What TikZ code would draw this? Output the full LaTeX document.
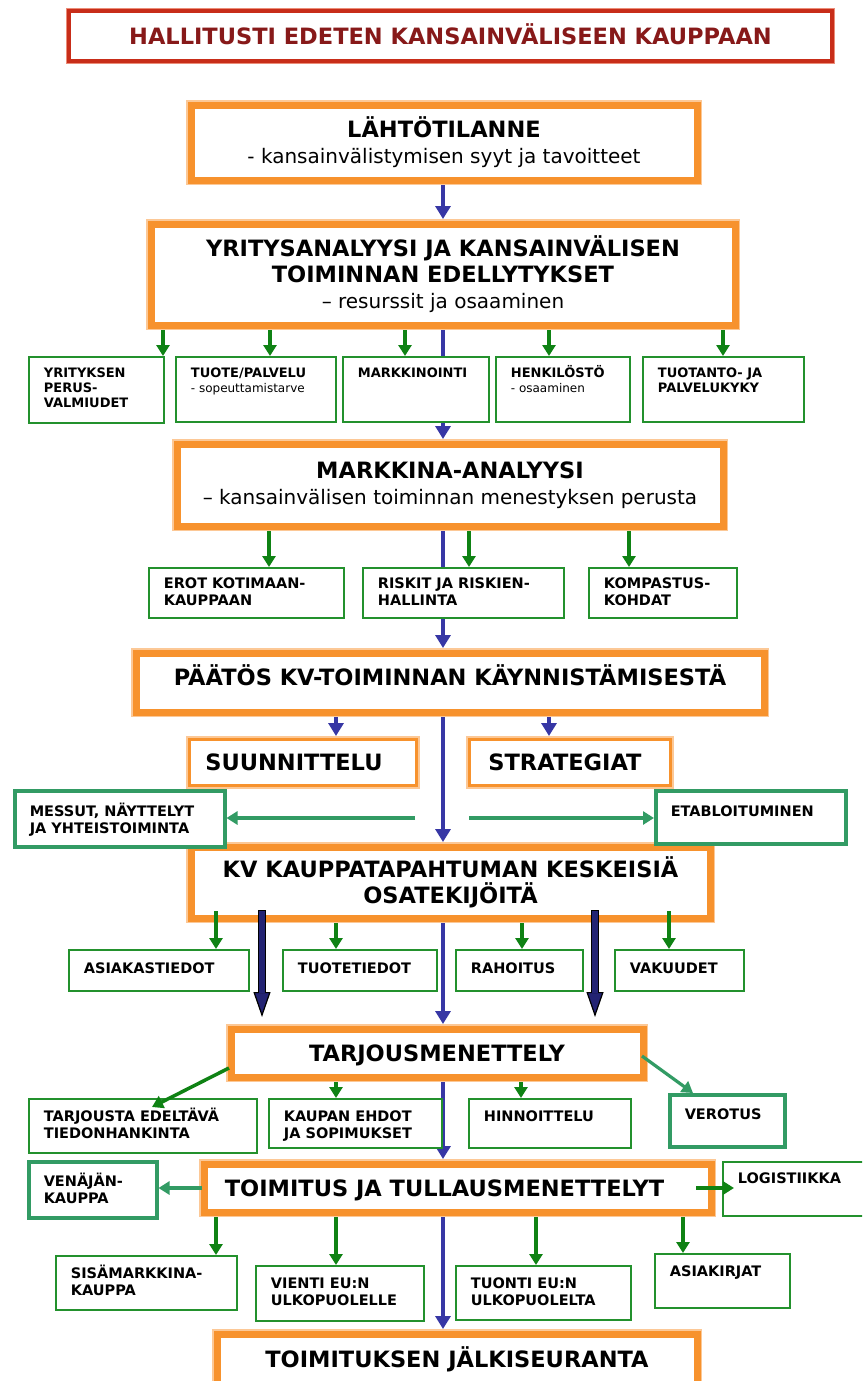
\documentclass[tikz,border=0pt]{standalone}
\usepackage{fontspec}
\setmainfont{DejaVu Sans}
\usetikzlibrary{arrows.meta}
\usetikzlibrary{calc}
\usetikzlibrary{backgrounds}

\definecolor{oranssi}{RGB}{247,146,45}
\definecolor{oranssivaalea}{RGB}{252,200,150}
\definecolor{punainen}{RGB}{200,45,25}
\definecolor{punavaalea}{RGB}{235,140,120}
\definecolor{otsikkoteksti}{RGB}{135,25,25}
\definecolor{vihrea}{RGB}{35,145,45}
\definecolor{nuolivihrea}{RGB}{15,130,20}
\definecolor{turkoosi}{RGB}{50,155,100}
\definecolor{sininen}{RGB}{55,55,165}
\definecolor{tummasininen}{RGB}{35,35,115}

% teksti vihreisiin laatikoihin: [ensimmainen perusviiva]{leveys}{korkeus}{teksti}
\newcommand{\laatikko}[4][22]{\parbox[c][#3pt][t]{#2pt}{\raggedright\leftskip=15pt\relax
  \vspace*{\dimexpr#1pt-.96em\relax}\rule{0pt}{.96em}#4}}
\newcommand{\selite}[1]{{\mdseries\fontsize{12}{15}\selectfont #1}}
\newcommand{\alaotsikko}[1]{{\mdseries\fontsize{20}{26}\selectfont #1}}

\tikzset{
  paalaatikko/.style={draw=oranssi, line width=7pt, preaction={draw=oranssivaalea, line width=10.5pt},
    fill=white, outer sep=5pt, align=center, font=\bfseries\fontsize{22.5}{26}\selectfont},
  ohutlaatikko/.style={draw=oranssi, line width=3pt, preaction={draw=oranssivaalea, line width=7pt},
    fill=white, outer sep=3.5pt, align=center, font=\bfseries\fontsize{22.5}{26}\selectfont},
  yksirivi/.style={text height=16.4pt, text depth=0pt},
  otsikkolaatikko/.style={draw=punainen, line width=4pt, preaction={draw=punavaalea, line width=6.5pt},
    fill=white, text=otsikkoteksti, font=\bfseries\fontsize{22.5}{26}\selectfont, yksirivi},
  pieni/.style={draw=vihrea, line width=1.8pt, fill=white, inner sep=0pt, anchor=north west,
    font=\bfseries\fontsize{14.5}{17}\selectfont},
  pienempi/.style={pieni, font=\bfseries\fontsize{13}{15}\selectfont},
  turkoosilaatikko/.style={pieni, draw=turkoosi, line width=3.5pt},
  kulku/.style={draw=sininen, line width=4.5pt, -{Triangle[width=15pt,length=13pt]}},
  haara/.style={draw=nuolivihrea, line width=3.5pt, -{Triangle[width=13pt,length=11pt]}},
  sivuhaara/.style={draw=turkoosi, line width=3.2pt, -{Triangle[width=13pt,length=11pt]}},
  paksureuna/.style={draw=black, line width=8.5pt,
    -{Triangle[width=17pt,length=25pt,fill=tummasininen,line width=1.2pt]}},
  paksusisus/.style={draw=tummasininen, line width=5.5pt, shorten >=24pt}
}

\begin{document}
\begin{tikzpicture}[x=1pt,y=-1pt]
\useasboundingbox (0,0) rectangle (862,1381);
\clip (0,0) rectangle (862,1381);
\coordinate (akseli) at (443,0);

% otsikko
\node[otsikkolaatikko, minimum width=763pt, minimum height=50pt] (otsikko) at (450.5,36)
  {HALLITUSTI EDETEN KANSAINVÄLISEEN KAUPPAAN};

% pääketju
\node[paalaatikko, minimum width=506pt, minimum height=75pt] (lahto) at (444,142.5)
  {LÄHTÖTILANNE\\\alaotsikko{- kansainvälistymisen syyt ja tavoitteet}};
\node[paalaatikko, minimum width=584pt, minimum height=101pt] (yritys) at (443,274.5)
  {YRITYSANALYYSI JA KANSAINVÄLISEN\\TOIMINNAN EDELLYTYKSET\\\alaotsikko{– resurssit ja osaaminen}};
\node[paalaatikko, minimum width=546pt, minimum height=82pt] (markan) at (450,485)
  {MARKKINA-ANALYYSI\\\alaotsikko{– kansainvälisen toiminnan menestyksen perusta}};
\node[paalaatikko, yksirivi, text depth=11pt, minimum width=628pt, minimum height=59pt] (paatos) at (450,682.5)
  {PÄÄTÖS KV-TOIMINNAN KÄYNNISTÄMISESTÄ};
\node[ohutlaatikko, yksirivi, minimum width=227pt, minimum height=46pt] (suunn) at (303,762.5)
  {SUUNNITTELU\hspace*{18pt}};
\node[ohutlaatikko, yksirivi, minimum width=201pt, minimum height=46pt] (strat) at (570,762.5)
  {STRATEGIAT\hspace*{10pt}};
\node[paalaatikko, minimum width=519pt, minimum height=71pt] (kv) at (450.5,882.5)
  {KV KAUPPATAPAHTUMAN KESKEISIÄ\\OSATEKIJÖITÄ};
\node[paalaatikko, yksirivi, minimum width=412pt, minimum height=48pt] (tarjous) at (437,1053)
  {TARJOUSMENETTELY};
\node[paalaatikko, yksirivi, minimum width=507pt, minimum height=48pt] (toimitus) at (457.5,1188)
  {TOIMITUS JA TULLAUSMENETTELYT\hspace*{26pt}};
\node[paalaatikko, yksirivi, minimum width=480pt, minimum height=51pt] (jalki) at (457,1359.5)
  {TOIMITUKSEN JÄLKISEURANTA};

% edellytykset
\node[pienempi] (yrit) at (28,356) {\laatikko[21]{135}{66}{YRITYKSEN\\PERUS-\\VALMIUDET}};
\node[pienempi] (tuote) at (175,356) {\laatikko[21]{160}{65}{TUOTE/PALVELU\\\selite{- sopeuttamistarve}}};
\node[pienempi] (markk) at (342,356) {\laatikko[21]{146}{65}{MARKKINOINTI}};
\node[pienempi] (henk) at (495,356) {\laatikko[21]{134}{65}{HENKILÖSTÖ\\\selite{- osaaminen}}};
\node[pienempi] (tuotanto) at (642,356) {\laatikko[21]{161}{65}{TUOTANTO- JA\\PALVELUKYKY}};

% markkina-analyysi
\node[pieni] (erot) at (148,567) {\laatikko[21]{195}{50}{EROT KOTIMAAN-\\KAUPPAAN}};
\node[pieni] (riskit) at (362,567) {\laatikko[21]{201}{50}{RISKIT JA RISKIEN-\\HALLINTA}};
\node[pieni] (kompastus) at (588,567) {\laatikko[21]{148}{50}{KOMPASTUS-\\KOHDAT}};

% suunnittelu ja strategiat
\node[turkoosilaatikko] (messut) at (13,789) {\laatikko[26]{210}{56}{MESSUT, NÄYTTELYT\\JA YHTEISTOIMINTA}};
\node[turkoosilaatikko] (etab) at (654,789) {\laatikko[26]{190}{53}{ETABLOITUMINEN}};

% osatekijät
\node[pieni] (asiak) at (68,949) {\laatikko[24]{180}{41}{ASIAKASTIEDOT}};
\node[pieni] (tuotet) at (282,949) {\laatikko[24]{154}{41}{TUOTETIEDOT}};
\node[pieni] (rahoitus) at (455,949) {\laatikko[24]{127}{41}{RAHOITUS}};
\node[pieni] (vakuudet) at (614,949) {\laatikko[24]{129}{41}{VAKUUDET}};

% tarjous
\node[pieni] (tarjousta) at (28,1098) {\laatikko[23]{228}{54}{TARJOUSTA EDELTÄVÄ\\TIEDONHANKINTA}};
\node[pieni] (kaupan) at (268,1098) {\laatikko[23]{173}{49}{KAUPAN EHDOT\\JA SOPIMUKSET}};
\node[pieni] (hinn) at (468,1098) {\laatikko[23]{162}{49}{HINNOITTELU}};
\node[turkoosilaatikko] (verotus) at (668,1093) {\laatikko[25]{115}{52}{VEROTUS}};

% toimitus
\node[turkoosilaatikko] (venajan) at (27,1160) {\laatikko[25]{128}{56}{VENÄJÄN-\\KAUPPA}};
\node[pieni] (logist) at (722,1161) {\laatikko[22]{158}{54}{LOGISTIIKKA}};
\node[pieni] (sisa) at (55,1255) {\laatikko[23]{181}{54}{SISÄMARKKINA-\\KAUPPA}};
\node[pieni] (vienti) at (255,1265) {\laatikko[23]{168}{55}{VIENTI EU:N\\ULKOPUOLELLE}};
\node[pieni] (tuonti) at (455,1265) {\laatikko[23]{175}{54}{TUONTI EU:N\\ULKOPUOLELTA}};
\node[pieni] (asiakirjat) at (654,1253) {\laatikko[23]{135}{54}{ASIAKIRJAT}};

% sininen pääkulku laatikoiden takana
\begin{scope}[on background layer]
  \fill[white] (0,0) rectangle (862,1381);
  \foreach \ylempi/\alempi in {lahto/yritys, yritys/markan, markan/paatos, paatos/kv,
                               kv/tarjous, tarjous/toimitus, toimitus/jalki}
    \draw[kulku] (\ylempi.south -| akseli) -- (\alempi.north -| akseli);
\end{scope}
\draw[kulku] (paatos.south -| 336,0) -- (suunn.north -| 336,0);
\draw[kulku] (paatos.south -| 549,0) -- (strat.north -| 549,0);

% vihreät haarat
\foreach \kohde/\x in {yrit/163, tuote/270, markk/405, henk/549, tuotanto/723}
  \draw[haara] (yritys.south -| \x,0) -- (\kohde.north -| \x,0);
\foreach \kohde/\x in {erot/269, riskit/469, kompastus/629}
  \draw[haara] (markan.south -| \x,0) -- (\kohde.north -| \x,0);
\foreach \kohde/\x/\s in {asiak/216/12, tuotet/336/0, rahoitus/522/0, vakuudet/669/12}
  \draw[haara] (kv.south -| \x,0) ++(0,-\s) -- (\kohde.north -| \x,0);
\foreach \kohde/\x in {kaupan/336, hinn/521}
  \draw[haara] (tarjous.south -| \x,0) -- (\kohde.north -| \x,0);
\foreach \kohde/\x in {sisa/216, vienti/336, tuonti/536, asiakirjat/683}
  \draw[haara] (toimitus.south -| \x,0) -- (\kohde.north -| \x,0);
\draw[haara] (tarjous.south west) ++(3,-14) -- ($(tarjousta.north west)+(124,9)$);
\draw[haara] (toimitus.east) ++(-20,0) -- ($(logist.west |- toimitus.east)+(12,0)$);

% sivunuolet
\coordinate (haaraV) at (415,818);
\coordinate (haaraO) at (469,818);
\draw[sivuhaara] (haaraV) -- (messut.east |- haaraV);
\draw[sivuhaara] (haaraO) -- (etab.west |- haaraO);
\draw[sivuhaara] (tarjous.east) ++(-6,3) -- (verotus.north -| 693,0);
\draw[sivuhaara] (toimitus.west) ++(3,0) -- (venajan.east |- toimitus.west);

% paksut nuolet osatekijöistä tarjoukseen
\foreach \x in {262, 595} {
  \draw[paksureuna] (kv.south -| \x,0) ++(0,-13) -- ($(tarjous.north -| \x,0)+(0,-7)$);
  \draw[paksusisus] (kv.south -| \x,0) ++(0,-12) -- ($(tarjous.north -| \x,0)+(0,-7)$);
}
\end{tikzpicture}
\end{document}
